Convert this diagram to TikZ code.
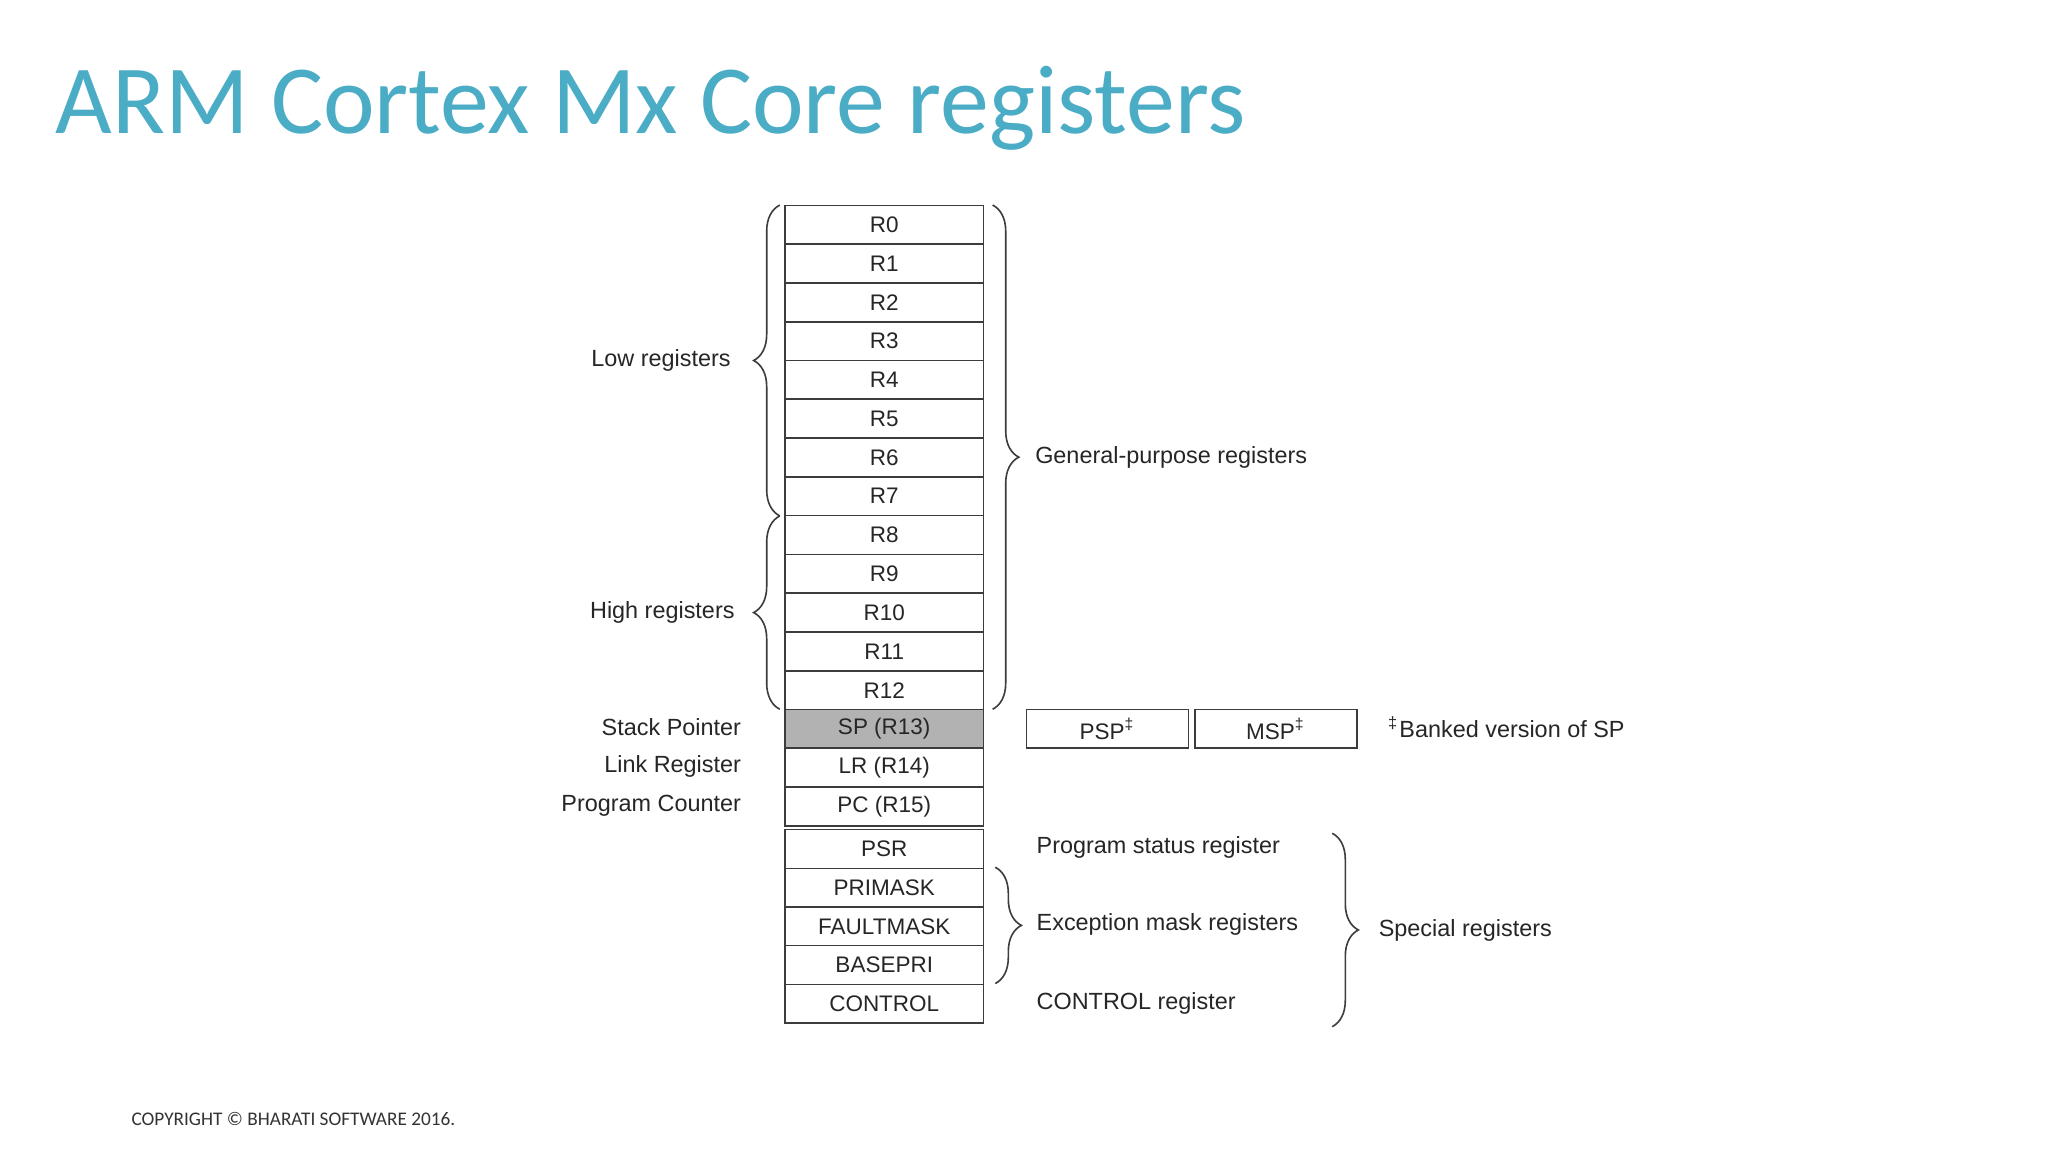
\documentclass[tikz,border=0pt]{standalone}
\usepackage{fontspec}
\setmainfont{Liberation Sans}
\newfontfamily\carl{Carlito}
\usetikzlibrary{decorations.pathreplacing}
\definecolor{ttl}{RGB}{75,172,198}
\definecolor{ln}{RGB}{60,60,60}
\begin{document}
\begin{tikzpicture}[x=0.1mm,y=-0.1mm,
  reg/.style={draw=ln,line width=0.35pt,minimum width=15.2mm,minimum height=2.96mm,inner sep=0pt,font=\fontsize{4.9}{5}\selectfont,text=black!85},
  lab/.style={font=\fontsize{5.1}{5.5}\selectfont,text=black!85,inner sep=0pt},
  br/.style={draw=ln,line width=0.35pt,decorate,decoration={brace,amplitude=2mm}}]
\useasboundingbox[fill=white] (0,0) rectangle (1568,882);
\node[anchor=base west,inner sep=0pt,text=ttl,font=\carl\fontsize{21.3}{23}\selectfont] (title) at (42,102) {ARM Cortex Mx Core registers};
\node[anchor=base west,inner sep=0pt,font=\carl\fontsize{4.2}{5}\selectfont,text=black!80] (copy) at (100,862) {COPYRIGHT © BHARATI SOFTWARE 2016.};
\foreach \t [count=\i from 0] in {R0,R1,R2,R3,R4,R5,R6,R7,R8,R9,R10,R11,R12,SP (R13),LR (R14),PC (R15)}{
  \node[reg] (r\i) at (677,{172+\i*29.7}) {\t};
}
\node[reg,fill=black!30] at (r13) {SP (R13)};
\foreach \t [count=\i from 0] in {PSR,PRIMASK,FAULTMASK,BASEPRI,CONTROL}{
  \node[reg] (s\i) at (677,{650+\i*29.6}) {\t};
}
\coordinate (a1) at (597,157); \coordinate (a2) at (597,395); \coordinate (a3) at (597,543);
\draw[br] (a2) -- (a1) node[midway,lab,anchor=east,xshift=-3.7mm] (low) {Low registers};
\draw[br] (a3) -- (a2) node[midway,lab,anchor=east,xshift=-3.4mm] (high) {High registers};
\coordinate (g1) at (760,157); \coordinate (g2) at (760,543);
\draw[br] (g1) -- (g2) node[midway,lab,anchor=west,xshift=3.2mm] (gp) {General-purpose registers};
\node[lab,anchor=east] (spl) at (568,557) {Stack Pointer};
\node[lab,anchor=east] (lrl) at (568,587) {Link Register};
\node[lab,anchor=east] (pcl) at (568,617) {Program Counter};
\node[reg,minimum width=12.4mm] (psp) at (848,558) {PSP\textsuperscript{‡}};
\node[reg,minimum width=12.4mm] (msp) at (977,558) {MSP\textsuperscript{‡}};
\node[lab,anchor=west] (bank) at (1062,557) {\textsuperscript{‡}Banked version of SP};
\coordinate (e1) at (762,664); \coordinate (e2) at (762,753);
\draw[br] (e1) -- (e2);
\node[lab,anchor=west] (psrl) at (793,649) {Program status register};
\node[lab,anchor=west] (exl) at (793,708) {Exception mask registers};
\node[lab,anchor=west] (ctl) at (793,768) {CONTROL register};
\coordinate (p1) at (1020,638); \coordinate (p2) at (1020,786);
\draw[br] (p1) -- (p2) node[midway,lab,anchor=west,xshift=3.5mm] (spec) {Special registers};
\end{tikzpicture}
\end{document}
